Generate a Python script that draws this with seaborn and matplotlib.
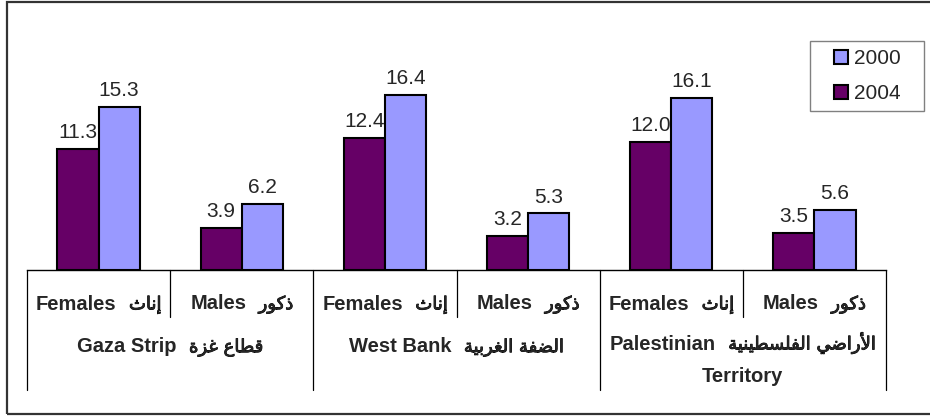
import matplotlib
matplotlib.use("Agg")

import matplotlib.pyplot as plt
import matplotlib.transforms as mtransforms
import matplotlib.patheffects as pe
from matplotlib.lines import Line2D
from matplotlib.patches import Rectangle
from matplotlib.offsetbox import TextArea, HPacker, AnnotationBbox
import seaborn as sns
import pandas as pd

# -----------------------------------------------------------------------
# Data
# -----------------------------------------------------------------------
regions_en = ["Gaza Strip", "West Bank", "Palestinian Territory"]
regions_ar = ["قطاع غزة", "الضفة الغربية", "الأراضي الفلسطينية"]
sexes_en = ["Females", "Males"]
sexes_ar = ["إناث", "ذكور"]
years = ["2004", "2000"]
values_2004 = [11.3, 3.9, 12.4, 3.2, 12.0, 3.5]
values_2000 = [15.3, 6.2, 16.4, 5.3, 16.1, 5.6]

# -----------------------------------------------------------------------
# Minimal Arabic shaping: matplotlib has no bidi / joining support, so map
# letters to their presentation forms and reverse for left-to-right drawing
# -----------------------------------------------------------------------
AR_FORMS = {
    "ا": ("\uFE8D", "\uFE8E"),
    "أ": ("\uFE83", "\uFE84"),
    "إ": ("\uFE87", "\uFE88"),
    "ب": ("\uFE8F", "\uFE90", "\uFE91", "\uFE92"),
    "ة": ("\uFE93", "\uFE94"),
    "ث": ("\uFE99", "\uFE9A", "\uFE9B", "\uFE9C"),
    "ذ": ("\uFEAB", "\uFEAC"),
    "ر": ("\uFEAD", "\uFEAE"),
    "ز": ("\uFEAF", "\uFEB0"),
    "س": ("\uFEB1", "\uFEB2", "\uFEB3", "\uFEB4"),
    "ض": ("\uFEBD", "\uFEBE", "\uFEBF", "\uFEC0"),
    "ط": ("\uFEC1", "\uFEC2", "\uFEC3", "\uFEC4"),
    "ع": ("\uFEC9", "\uFECA", "\uFECB", "\uFECC"),
    "غ": ("\uFECD", "\uFECE", "\uFECF", "\uFED0"),
    "ف": ("\uFED1", "\uFED2", "\uFED3", "\uFED4"),
    "ق": ("\uFED5", "\uFED6", "\uFED7", "\uFED8"),
    "ك": ("\uFED9", "\uFEDA", "\uFEDB", "\uFEDC"),
    "ل": ("\uFEDD", "\uFEDE", "\uFEDF", "\uFEE0"),
    "ن": ("\uFEE5", "\uFEE6", "\uFEE7", "\uFEE8"),
    "و": ("\uFEED", "\uFEEE"),
    "ي": ("\uFEF1", "\uFEF2", "\uFEF3", "\uFEF4"),
}
LAM_ALEF = {"ا": ("\uFEFB", "\uFEFC"), "أ": ("\uFEF7", "\uFEF8"), "إ": ("\uFEF9", "\uFEFA")}


def shape_ar(s):
    def links_next(c):
        return c in AR_FORMS and len(AR_FORMS[c]) == 4

    out, i, n = [], 0, len(s)
    while i < n:
        c = s[i]
        if c not in AR_FORMS:
            out.append(c)
            i += 1
            continue
        link_prev = i > 0 and links_next(s[i - 1])
        if c == "ل" and i + 1 < n and s[i + 1] in LAM_ALEF:
            iso, fin = LAM_ALEF[s[i + 1]]
            out.append(fin if link_prev else iso)
            i += 2
            continue
        forms = AR_FORMS[c]
        link_next = len(forms) == 4 and i + 1 < n and s[i + 1] in AR_FORMS
        if link_prev and link_next:
            out.append(forms[3])
        elif link_prev:
            out.append(forms[1])
        elif link_next:
            out.append(forms[2])
        else:
            out.append(forms[0])
        i += 1
    return "".join(reversed(out))


# -----------------------------------------------------------------------
# Build long-form table for seaborn
# -----------------------------------------------------------------------
categories = [f"{r}|{s}" for r in regions_en for s in sexes_en]
df = pd.DataFrame({
    "category": categories * 2,
    "year": ["2004"] * 6 + ["2000"] * 6,
    "value": values_2004 + values_2000,
})

sns.set_style("white")
plt.rcParams["font.family"] = ["Liberation Sans", "DejaVu Sans"]

W, H = 930, 416
fig = plt.figure(figsize=(W / 100, H / 100), dpi=100)
ax = fig.add_axes([27 / W, 1 - 270 / H, 859 / W, 213.4 / H])

sns.barplot(
    data=df, x="category", y="value", hue="year",
    order=categories, hue_order=years,
    palette={"2004": "#660066", "2000": "#9999FF"},
    width=0.575, edgecolor="black", linewidth=1.5, saturation=1, ax=ax,
)

for cont in ax.containers:
    ax.bar_label(cont, fmt="%.1f", padding=5, fontsize=15)

ax.set_xlim(-0.5, 5.5)
ax.set_ylim(0, 20)
ax.set_xlabel("")
ax.set_ylabel("")
ax.set_xticks([])
ax.set_yticks([])
for side in ["left", "right", "top"]:
    ax.spines[side].set_visible(False)
ax.spines["bottom"].set_color("black")
ax.spines["bottom"].set_linewidth(1)


def fy(px):
    return 1 - px / H


trans = mtransforms.blended_transform_factory(ax.transData, fig.transFigure)

# multi-level category axis: separators
for k in range(7):
    x = k - 0.5
    bottom = 390 if k % 2 == 0 else 317
    ax.add_line(Line2D([x, x], [fy(270), fy(bottom)], transform=trans,
                       color="black", lw=0.9, clip_on=False))

en_props = dict(fontsize=14.5, fontweight="bold", family=["Liberation Sans"])
ar_props = dict(fontsize=13, family=["DejaVu Sans"],
                path_effects=[pe.withStroke(linewidth=0.6, foreground="black")])


def pair_label(x, y, en, ar):
    children = [TextArea(en, textprops=en_props)]
    if ar:
        children.append(TextArea(shape_ar(ar), textprops=ar_props))
    box = HPacker(children=children, align="baseline", pad=0, sep=9)
    ab = AnnotationBbox(box, (x, y), xycoords=trans, frameon=False,
                        box_alignment=(0.5, 0.5), pad=0, annotation_clip=False)
    ax.add_artist(ab)


for i, cat in enumerate(categories):
    k = i % 2
    pair_label(i, fy(304), sexes_en[k], sexes_ar[k])

for j in range(3):
    words = regions_en[j].split(" ")
    if j == 2:
        pair_label(2 * j + 0.5, fy(343), words[0], regions_ar[j])
        pair_label(2 * j + 0.5, fy(377), words[1], "")
    else:
        pair_label(2 * j + 0.5, fy(347), regions_en[j], regions_ar[j])

# legend: 2000 first, then 2004
handles, labels = ax.get_legend_handles_labels()
leg = ax.legend(handles[::-1], labels[::-1], loc="upper right",
                bbox_to_anchor=(909 / W, fy(41)), bbox_transform=fig.transFigure,
                frameon=False, fontsize=15, handlelength=0.68, handleheight=0.68,
                handletextpad=0.3, labelspacing=0.75, borderpad=0.4, borderaxespad=0)

fig.canvas.draw()
bb = leg.get_window_extent().transformed(fig.transFigure.inverted())
padx = 15 / W
fig.patches.append(Rectangle((bb.x0 - padx, bb.y0), bb.width + 2 * padx, bb.height,
                             transform=fig.transFigure, fill=False,
                             edgecolor="#808080", lw=1))

# outer chart frame (open on the right as in the reference)
fig.patches.append(Rectangle((7 / W, fy(414)), 1.0, (412 / H),
                             transform=fig.transFigure, fill=False,
                             edgecolor="#333333", lw=1.6))

fig.savefig("out.png", dpi=100, facecolor="white")
